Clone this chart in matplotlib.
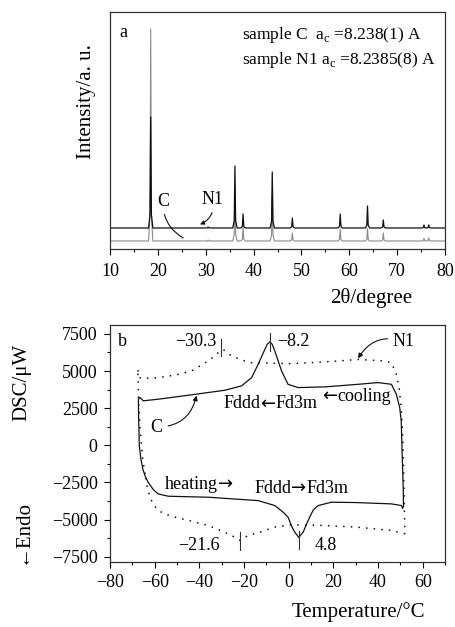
import matplotlib
matplotlib.use("Agg")
import matplotlib.pyplot as plt
from matplotlib.ticker import MultipleLocator
from matplotlib.offsetbox import TextArea, HPacker, AnnotationBbox

plt.rcParams['font.family'] = ['Liberation Serif', 'DejaVu Serif']
plt.rcParams['mathtext.fontset'] = 'custom'
plt.rcParams['mathtext.rm'] = 'Liberation Serif'
plt.rcParams['axes.unicode_minus'] = True

# ---- panel a: XRD peaks (2theta / heights, arb. units) ----
peak_pos = [18.5, 30.5, 36.1, 37.8, 43.9, 48.1, 58.1, 63.8, 67.1, 75.6, 76.6]
n1_heights = [111, 1, 62, 14, 56, 10, 14, 22, 8, 3, 3]
c_heights = [212, 1, 55, 14, 50, 8, 12, 12, 8, 2.5, 3]
n1_base = 21
c_base = 8

# ---- panel b: DSC loops (T in degC, heat flow in uW) ----
c_T = [51.4, 51.3, 50.9, 50.6, 50.4, 49.7, 48.2, 46.0, 40.0, 31.1, 16.2, 4.2,
       -0.3, -3.2, -6.2, -7.4, -8.4, -9.6, -10.7, -13.7, -16.6, -21.1, -28.6,
       -43.5, -58.4, -65.1, -66.6, -67.3, -67.2, -66.9, -66.2, -65.3, -64.2,
       -62.9, -60.5, -58.4, -53.9, -36.0, -13.7, -6.2, -2.5, -0.3, 1.5, 2.7,
       4.5, 6.5, 8.0, 9.4, 11.0, 13.2, 19.1, 30.0, 46.0, 50.5, 51.0, 51.4]
c_Q = [-4100, -3000, -1000, 500, 1600, 2549, 3439, 4108, 4222, 4108, 3934, 3887,
       4108, 5005, 6343, 6800, 6965, 6800, 6450, 5446, 4556, 4001, 3707,
       3400, 3105, 2997, 3218, 3105, 2000, 0, -900, -1600, -2100,
       -2500, -3000, -3271, -3425, -3492, -3719, -4054, -4500, -4830, -5500, -5834,
       -6200, -5834, -5300, -4830, -4350, -4054, -3826, -3850, -3940, -4054, -4250, -4100]

n1_T = [-64.3, -65.3, -66.5, -67.2, -67.5, -67.6, -67.0, -66.0, -58.4, -50.0,
        -43.5, -36.0, -31.6, -29.3, -25.6, -20.0, -16.6, 1.3, 20.0, 31.1, 43.0,
        46.0, 48.2, 49.5, 50.5, 51.2, 51.6, 51.9, 52.0, 46.0, 30.0, 16.2, 1.3,
        -6.2, -12.0, -18.1, -21.9, -25.6, -31.0, -36.0, -45.0, -50.9, -55.0,
        -58.4, -60.5, -62.1, -63.5, -64.3]
n1_Q = [-1933, -1000, 1000, 3000, 4700, 5150, 4600, 4500, 4556, 4750,
        5005, 5674, 6229, 6450, 6008, 5700, 5560, 5493, 5650, 5781, 5674,
        5560, 4777, 3800, 2329, 0, -3000, -5000, -5947, -5726, -5500, -5392, -5345,
        -5499, -5800, -6061, -6396, -6061, -5700, -5392, -5050, -4830, -4650,
        -4388, -4000, -3492, -2700, -1933]

# transition markers: (temperature, low, high)
cool_marks = [(-30.3, 6000, 7150), (-8.2, 6350, 7550)]
heat_marks = [(-21.6, -7050, -5850), (4.8, -7000, -5750)]


def profile(pos, heights, base):
    x = [10]
    y = [base]
    for p, h in zip(pos, heights):
        x += [p - 0.45, p - 0.15, p, p + 0.15, p + 0.45]
        y += [base, base + 0.12 * h, base + h, base + 0.12 * h, base]
    x.append(80)
    y.append(base)
    return x, y


def mixed_text(ax, x, y, parts, halign=0.5):
    # serif words with a wider sans arrow in between
    boxes = []
    for s in parts:
        fam = 'DejaVu Sans' if s in ('←', '→') else 'Liberation Serif'
        boxes.append(TextArea(s, textprops=dict(fontsize=13, family=fam)))
    pack = HPacker(children=boxes, align='baseline', pad=0, sep=0)
    ab = AnnotationBbox(pack, (x, y), xycoords='data', frameon=False,
                        box_alignment=(halign, 0.5), pad=0)
    ax.add_artist(ab)


fig = plt.figure(figsize=(4.55, 6.27), dpi=100)
ax1 = fig.add_axes([0.2418, 0.6029, 0.7363, 0.378])
ax2 = fig.add_axes([0.2418, 0.1037, 0.7363, 0.378])

tick_fs = 13
label_fs = 15

# ---- panel a ----
xc, yc = profile(peak_pos, c_heights, c_base)
xn, yn = profile(peak_pos, n1_heights, n1_base)
ax1.plot(xc, yc, color='#8a8a8a', lw=0.8)
ax1.plot(xn, yn, color='#111111', lw=0.9)
ax1.set_xlim(10, 80)
ax1.set_ylim(0, 237)
ax1.set_yticks([])
ax1.xaxis.set_major_locator(MultipleLocator(10))
ax1.xaxis.set_minor_locator(MultipleLocator(5))
ax1.tick_params(axis='x', which='major', labelsize=tick_fs, length=4, width=0.8, pad=6)
ax1.tick_params(axis='x', which='minor', length=2.5, width=0.8)
ax1.set_xlabel('2θ/degree', fontsize=label_fs, x=0.78, labelpad=6)

ax1.text(12.0, 216, 'a', fontsize=13, va='center', ha='left')
ax1.text(37.6, 214, 'sample C  a$_\\mathrm{c}$ =8.238(1) A', fontsize=12.5,
         va='center', ha='left')
ax1.text(37.6, 189, 'sample N1 a$_\\mathrm{c}$ =8.2385(8) A', fontsize=12.5,
         va='center', ha='left')
ax1.annotate('C', xy=(25.3, 11), xytext=(21.1, 47.3), fontsize=13,
             ha='center', va='center',
             arrowprops=dict(arrowstyle='-', color='#111111', lw=0.8,
                             connectionstyle='arc3,rad=0.3', shrinkA=1, shrinkB=0))
ax1.annotate('N1', xy=(28.8, 24.5), xytext=(31.4, 49), fontsize=13,
             ha='center', va='center',
             arrowprops=dict(arrowstyle='-|>', color='#111111', lw=0.8,
                             mutation_scale=6,
                             connectionstyle='arc3,rad=-0.4', shrinkA=1, shrinkB=0))

# ---- panel b ----
ax2.plot(c_T, c_Q, color='#111111', lw=0.9)
ax2.plot(n1_T, n1_Q, color='#111111', lw=1.1, linestyle=(0, (1, 4)))
for t, lo, hi in cool_marks + heat_marks:
    ax2.plot([t, t], [lo, hi], color='#333333', lw=0.8)

ax2.set_xlim(-80, 70)
ax2.set_ylim(-7850, 8100)
ax2.xaxis.set_major_locator(MultipleLocator(20))
ax2.xaxis.set_minor_locator(MultipleLocator(10))
ax2.yaxis.set_major_locator(MultipleLocator(2500))
ax2.yaxis.set_minor_locator(MultipleLocator(1250))
ax2.tick_params(which='major', labelsize=tick_fs, length=4, width=0.8, pad=5)
ax2.tick_params(which='minor', length=2.5, width=0.8)
ax2.set_xlabel('Temperature/°C', fontsize=label_fs, x=0.74, labelpad=8)

ax2.text(-76.5, 6965, 'b', fontsize=13, va='center', ha='left')
ax2.text(-32.5, 7000, '−30.3', fontsize=13, va='center', ha='right')
ax2.text(-5.4, 7000, '−8.2', fontsize=13, va='center', ha='left')
ax2.text(-31.0, -6730, '−21.6', fontsize=13, va='center', ha='right')
ax2.text(11.7, -6730, '4.8', fontsize=13, va='center', ha='left')
mixed_text(ax2, -8.2, 2820, ['Fddd', '←', 'Fd3m'])
mixed_text(ax2, 15.0, 3300, ['←', 'cooling'], halign=0.0)
mixed_text(ax2, -40.2, -2600, ['heating', '→'])
mixed_text(ax2, 5.7, -2870, ['Fddd', '→', 'Fd3m'])

ax2.annotate('N1', xy=(31.1, 5850), xytext=(46.7, 7000), fontsize=13,
             ha='left', va='center',
             arrowprops=dict(arrowstyle='-|>', color='#111111', lw=0.8,
                             mutation_scale=7,
                             connectionstyle='arc3,rad=0.4', shrinkA=2, shrinkB=0))
ax2.annotate('C', xy=(-41.3, 3350), xytext=(-59.1, 1230), fontsize=13,
             ha='center', va='center',
             arrowprops=dict(arrowstyle='-|>', color='#111111', lw=0.8,
                             mutation_scale=7,
                             connectionstyle='arc3,rad=0.4', shrinkA=2, shrinkB=0))

for ax in (ax1, ax2):
    for s in ax.spines.values():
        s.set_color('#333333')
        s.set_linewidth(0.9)

fig.text(87 / 455, 1 - 102 / 627, 'Intensity/a. u.', rotation=90,
         fontsize=label_fs, ha='center', va='center')
fig.text(22 / 455, 1 - 382 / 627, 'DSC/μW', rotation=90,
         fontsize=label_fs, ha='center', va='center')
fig.text(22 / 455, 1 - 532 / 627, '←Endo', rotation=90,
         fontsize=label_fs, ha='center', va='center')

fig.savefig('out.png', dpi=100)
